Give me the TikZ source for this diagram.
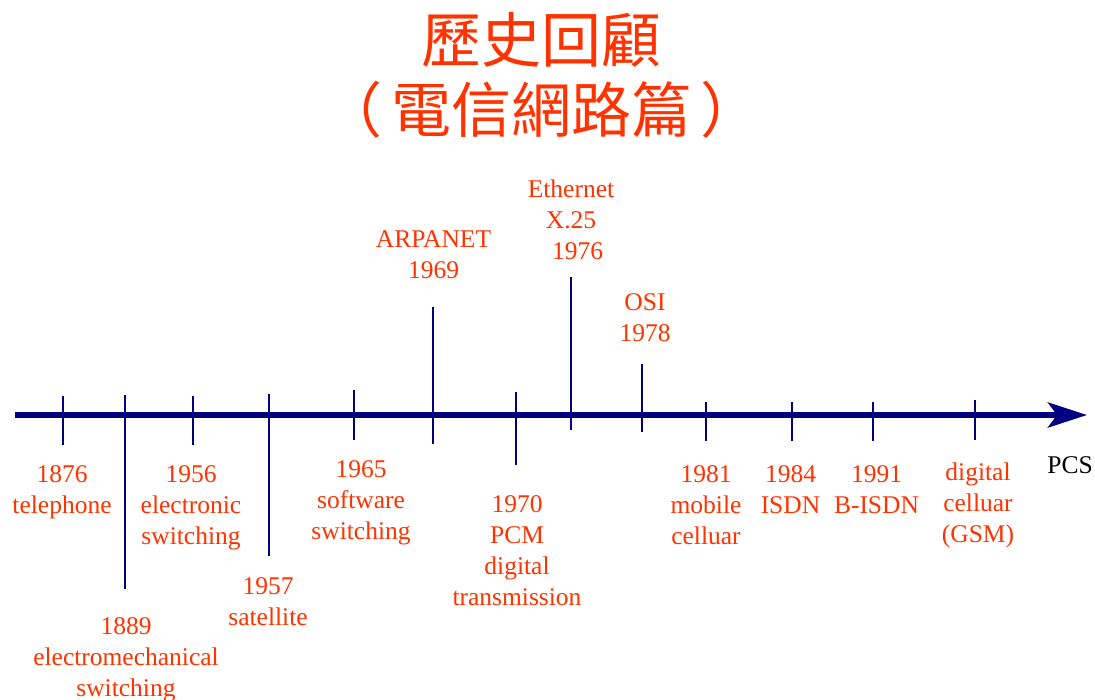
\documentclass[tikz,border=0pt]{standalone}
\usepackage{fontspec}
\setmainfont{Liberation Serif}
\newfontfamily\cjk{Noto Sans CJK TC}
\usetikzlibrary{arrows.meta}
\definecolor{navyblue}{RGB}{0,0,128}
\definecolor{labelred}{RGB}{255,51,0}
\begin{document}
\begin{tikzpicture}[x=1pt,y=-1pt,
  lab/.style={text=labelred, font=\fontsize{25.5}{31}\selectfont, align=center, anchor=base, inner sep=0pt},
  tickline/.style={draw=navyblue, line width=2pt},
  axis/.style={draw=navyblue, line width=6pt, -{Stealth[length=39pt,width=25pt,inset=9pt]}}]
\useasboundingbox (0,0) rectangle (1095,699);
% title (anchor base = baseline of last line)
\node[text=labelred, font=\cjk\fontsize{60}{70}\selectfont, align=center, anchor=base, inner sep=0pt] (title) at (541,132) {歷史回顧\\（\hspace{9pt}電信網路篇\hspace{9pt}）};
% axis
\coordinate (axstart) at (15,415);
\coordinate (axend) at (1087,415);
\draw[axis] (axstart) -- (axend);
% ticks
\draw[tickline] (63,396) -- (63,445);
\draw[tickline] (125,395) -- (125,589);
\draw[tickline] (193,396) -- (193,445);
\draw[tickline] (269,394) -- (269,556);
\draw[tickline] (354,390) -- (354,440);
\draw[tickline] (433,307) -- (433,444);
\draw[tickline] (516,392) -- (516,465);
\draw[tickline] (571,277) -- (571,430);
\draw[tickline] (642,364) -- (642,432);
\draw[tickline] (706,402) -- (706,441);
\draw[tickline] (792,402) -- (792,441);
\draw[tickline] (873,402) -- (873,441);
\draw[tickline] (975,400) -- (975,440);
% labels (positions are baselines of the last line)
\node[lab] (l1876) at (62,513) {1876\\telephone};
\node[lab] (l1889) at (126,696) {1889\\electromechanical\\switching};
\node[lab] (l1956) at (191,544) {1956\\electronic\\switching};
\node[lab] (l1957) at (268,625) {1957\\satellite};
\node[lab] (l1965) at (361,539) {1965\\software\\switching};
\node[lab] (l1969) at (433.5,278) {ARPANET\\1969};
\node[lab] (l1970) at (517,605) {1970\\PCM\\digital\\transmission};
\node[lab] (l1976) at (571,259) {Ethernet\\X.25\\\hspace*{13pt}1976};
\node[lab] (l1978) at (645,341) {OSI\\1978};
\node[lab] (l1981) at (706,544) {1981\\mobile\\celluar};
\node[lab] (l1984) at (790.5,513) {1984\\ISDN};
\node[lab] (l1991) at (876.5,513) {1991\\B-ISDN};
\node[lab] (lgsm) at (978,542) {digital\\celluar\\(GSM)};
\node[lab, text=black] (lpcs) at (1070,473) {PCS};
\end{tikzpicture}
\end{document}
